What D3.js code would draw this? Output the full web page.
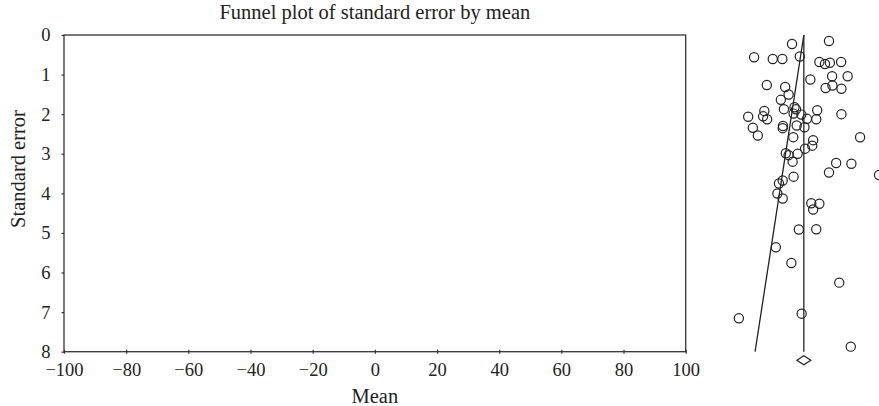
<!DOCTYPE html>
<html>
<head>
<meta charset="utf-8">
<script src="https://cdn.jsdelivr.net/npm/d3@7"></script>
<style>
  html, body { margin: 0; padding: 0; background: #fff; }
  svg { display: block; }
  text { font-family: "Liberation Serif", "DejaVu Serif", serif; fill: #222; }
</style>
</head>
<body>
<svg id="chart" width="879" height="406"></svg>
<script>
// Study estimates: mean difference and its standard error
const means = [
  134.2, 146.1, 122.0, 128.0, 131.1, 136.7, 143.0, 144.8, 146.4, 150.0,
  140.1, 147.1, 152.1, 145.0, 147.2, 150.1, 126.1, 132.0, 133.1, 130.6,
  131.6, 135.0, 135.5, 134.7, 137.2, 139.0, 142.3, 142.0, 150.1, 125.3,
  120.1, 124.9, 126.2, 121.6, 123.2, 131.3, 131.2, 135.7, 138.2, 134.6,
  141.0, 140.7, 138.4, 156.1, 132.2, 133.1, 136.0, 134.4, 148.4, 153.3,
  146.1, 162.2, 134.7, 130.0, 131.2, 129.5, 131.2, 140.4, 143.0, 141.0,
  136.4, 142.0, 129.0, 134.0, 149.4, 117.1, 137.3, 153.1
];
const standardErrors = [
  0.227, 0.152, 0.563, 0.606, 0.606, 0.543, 0.682, 0.732, 0.700, 0.682,
  1.124, 1.043, 1.043, 1.339, 1.276, 1.359, 1.263, 1.313, 1.503, 1.637,
  1.874, 1.826, 1.877, 1.985, 2.011, 2.117, 1.902, 2.127, 2.000, 1.920,
  2.066, 2.054, 2.127, 2.342, 2.538, 2.299, 2.354, 2.286, 2.329, 2.581,
  2.657, 2.796, 2.872, 2.584, 2.988, 3.036, 3.001, 3.200, 3.233, 3.251,
  3.473, 3.536, 3.579, 3.751, 3.675, 4.004, 4.130, 4.251, 4.264, 4.408,
  4.913, 4.908, 5.362, 5.759, 6.256, 7.156, 7.040, 7.873
];

// Pooled estimate and its confidence interval
const pooledMean = 138.0;
const pooledCI = [135.75, 140.25];
const zCrit = 1.96;

// Axis ticks
const xTicks = [-100, -80, -60, -40, -20, 0, 20, 40, 60, 80, 100];
const yTicks = [0, 1, 2, 3, 4, 5, 6, 7, 8];

const svg = d3.select("#chart");
const frame = { left: 64, right: 685.7, top: 35, bottom: 351.7 };

const x = d3.scaleLinear().domain([-100, 100]).range([frame.left, frame.right]);
const y = d3.scaleLinear().domain([0, 8]).range([frame.top, frame.bottom]);

const ink = "#333";

// Plot frame
svg.append("rect")
  .attr("x", frame.left).attr("y", frame.top)
  .attr("width", frame.right - frame.left)
  .attr("height", frame.bottom - frame.top)
  .attr("fill", "none").attr("stroke", ink).attr("stroke-width", 1.3);

// Bottom axis
const xAxis = svg.append("g")
  .attr("transform", `translate(0,${frame.bottom})`)
  .call(d3.axisBottom(x).tickValues(xTicks).tickSize(2).tickPadding(9));
xAxis.select(".domain").remove();
xAxis.selectAll(".tick line").attr("y1", -2).attr("y2", 2)
  .attr("stroke", ink).attr("stroke-width", 1.2);
xAxis.selectAll(".tick text")
  .attr("font-size", 18.5).attr("font-family", "Liberation Serif, serif").attr("fill", "#222");

// Left axis
const yAxis = svg.append("g")
  .attr("transform", `translate(${frame.left},0)`)
  .call(d3.axisLeft(y).tickValues(yTicks).tickSize(2.5).tickPadding(11));
yAxis.select(".domain").remove();
yAxis.selectAll(".tick line").attr("stroke", ink).attr("stroke-width", 1.2);
yAxis.selectAll(".tick text")
  .attr("font-size", 18.5).attr("font-family", "Liberation Serif, serif").attr("fill", "#222");

// Title and axis titles
svg.append("text")
  .attr("x", (frame.left + frame.right) / 2).attr("y", 19)
  .attr("text-anchor", "middle").attr("font-size", 20.5)
  .text("Funnel plot of standard error by mean");

svg.append("text")
  .attr("x", x(0)).attr("y", 403)
  .attr("text-anchor", "middle").attr("font-size", 20.5)
  .text("Mean");

svg.append("text")
  .attr("transform", `translate(25,169) rotate(-90)`)
  .attr("text-anchor", "middle").attr("font-size", 20.5)
  .text("Standard error");

// Funnel: pooled-mean line and lower 95% limit
const seMax = 8;
svg.append("line")
  .attr("x1", x(pooledMean)).attr("y1", y(0))
  .attr("x2", x(pooledMean)).attr("y2", y(seMax))
  .attr("stroke", "#222").attr("stroke-width", 1.3);

svg.append("line")
  .attr("x1", x(pooledMean)).attr("y1", y(0))
  .attr("x2", x(pooledMean - zCrit * seMax)).attr("y2", y(seMax))
  .attr("stroke", "#222").attr("stroke-width", 1.3);

// Individual studies
svg.append("g").selectAll("circle")
  .data(means.map((m, i) => ({ m, se: standardErrors[i] })))
  .join("circle")
  .attr("cx", d => x(d.m))
  .attr("cy", d => y(d.se))
  .attr("r", 4.6)
  .attr("fill", "none")
  .attr("stroke", "#222")
  .attr("stroke-width", 1.2);

// Pooled estimate diamond below the funnel
const dy = y(seMax) + 8.6;
const dh = 4.5;
svg.append("path")
  .attr("d", `M${x(pooledCI[0])},${dy} L${x(pooledMean)},${dy - dh} L${x(pooledCI[1])},${dy} L${x(pooledMean)},${dy + dh} Z`)
  .attr("fill", "none").attr("stroke", "#222").attr("stroke-width", 1.2);
</script>
</body>
</html>
